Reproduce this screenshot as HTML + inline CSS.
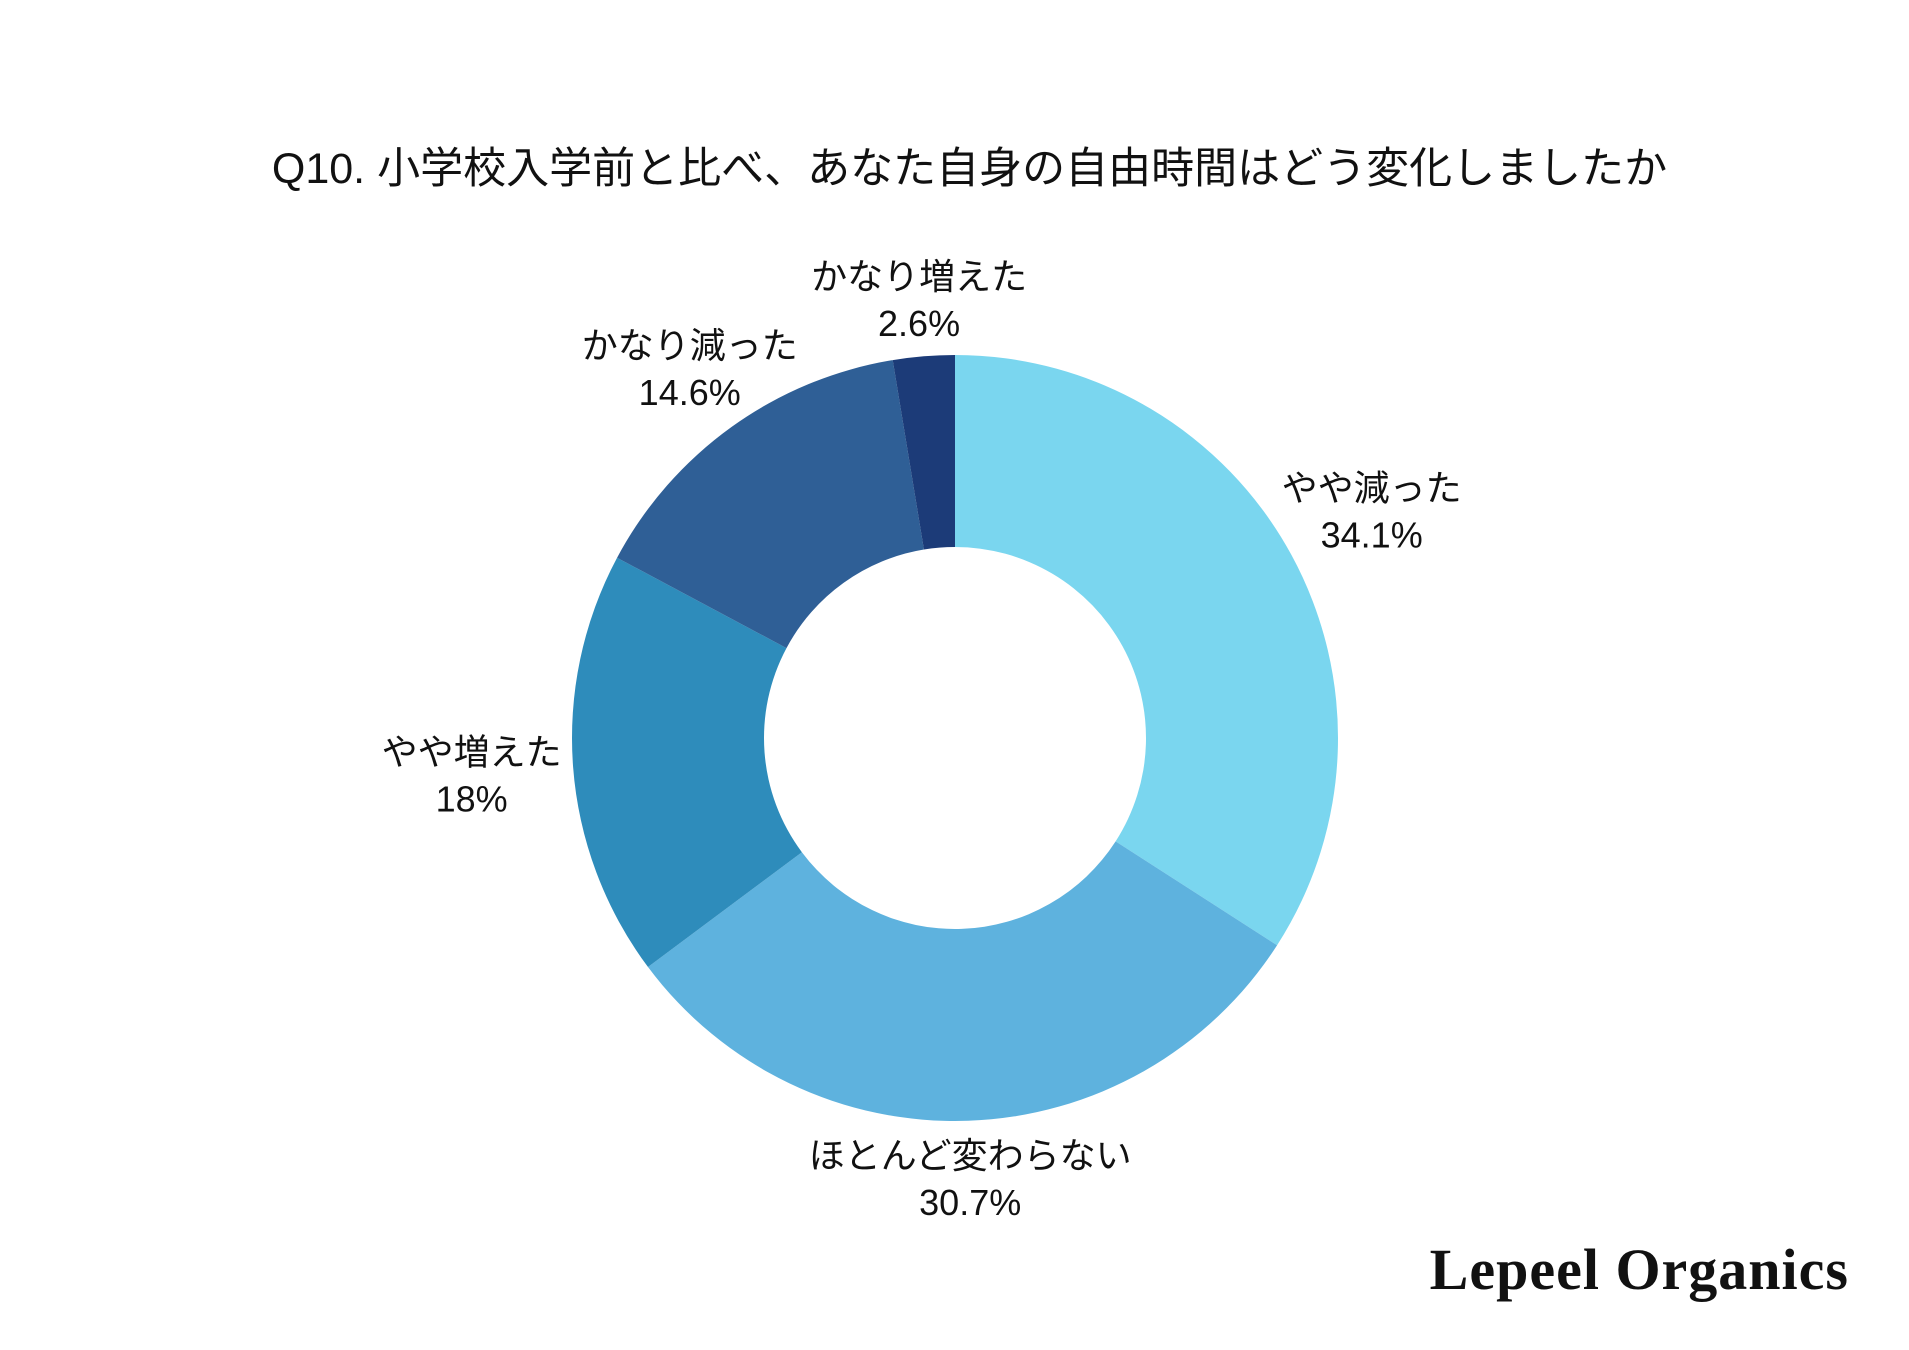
<!DOCTYPE html>
<html><head><meta charset="utf-8"><style>
html,body{margin:0;padding:0;background:#fff;}
body{width:1909px;height:1350px;position:relative;overflow:hidden;font-family:"Liberation Sans","Noto Sans CJK JP",sans-serif;}
#title{position:absolute;left:15px;width:1909px;top:134px;text-align:center;font-size:43px;color:#111;}
#logo{position:absolute;right:60px;top:1236px;font-family:"Liberation Serif","Noto Serif CJK SC",serif;font-weight:bold;font-size:58px;letter-spacing:1px;color:#111;}
</style></head><body>
<div id="title">Q10. 小学校入学前と比べ、あなた自身の自由時間はどう変化しましたか</div>
<svg id="chart" width="1909" height="1350" style="position:absolute;left:0;top:0"></svg>
<div id="logo">Lepeel Organics</div>
<script>
const categories = ["やや減った","ほとんど変わらない","やや増えた","かなり減った","かなり増えた"];
const values = [34.1,30.7,18,14.6,2.6];
const valueLabels = ["34.1%","30.7%","18%","14.6%","2.6%"];
const colors = ["#7ad6ef","#5eb2de","#2e8cbb","#2f5f96","#1c3b78"];
const NS="http://www.w3.org/2000/svg";
const svg=document.getElementById('chart');
const cx=955,cy=738,R=383,r=191;
const total=values.reduce((a,b)=>a+b,0);
function pt(rad,ang){return [cx+rad*Math.sin(ang),cy-rad*Math.cos(ang)];}
let acc=0;
values.forEach((v,i)=>{
  const a0=acc/total*2*Math.PI; acc+=v; const a1=acc/total*2*Math.PI;
  const large=(a1-a0)>Math.PI?1:0;
  const [x0,y0]=pt(R,a0),[x1,y1]=pt(R,a1),[x2,y2]=pt(r,a1),[x3,y3]=pt(r,a0);
  const p=document.createElementNS(NS,'path');
  p.setAttribute('d',`M${x0},${y0}A${R},${R} 0 ${large} 1 ${x1},${y1}L${x2},${y2}A${r},${r} 0 ${large} 0 ${x3},${y3}Z`);
  p.setAttribute('fill',colors[i]);
  
  
  svg.appendChild(p);
  const am=(a0+a1)/2, s=Math.sin(am);
  const lr=440+45*s*s;
  const [lx,ly]=pt(lr,am);
  const t=document.createElementNS(NS,'text');
  t.setAttribute('x',lx);t.setAttribute('y',ly-10);
  t.setAttribute('text-anchor','middle');
  t.setAttribute('font-size','36');t.setAttribute('fill','#111');
  t.setAttribute('font-family','"Liberation Sans","Noto Sans CJK JP",sans-serif');
  
  
  const t1=document.createElementNS(NS,'tspan');t1.setAttribute('x',lx);t1.textContent=categories[i];
  const t2=document.createElementNS(NS,'tspan');t2.setAttribute('x',lx);t2.setAttribute('dy','47');t2.textContent=valueLabels[i];
  t.appendChild(t1);t.appendChild(t2);
  svg.appendChild(t);
});
</script>
</body></html>
